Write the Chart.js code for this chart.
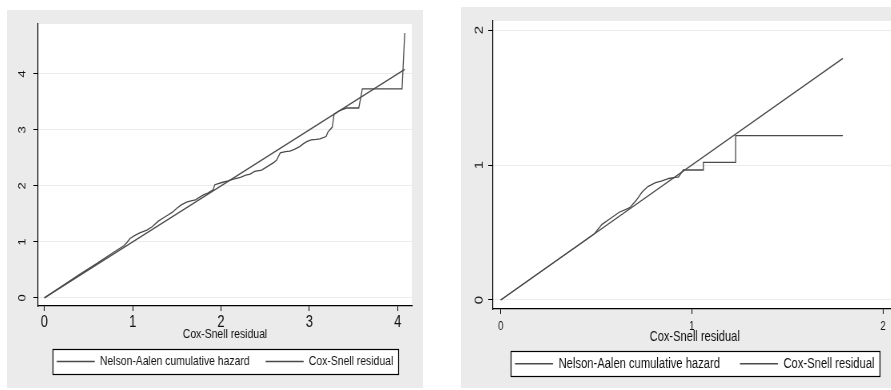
<!DOCTYPE html>
<html><head><meta charset="utf-8">
<script src="https://cdn.jsdelivr.net/npm/chart.js@4.4.1/dist/chart.umd.min.js"></script>
<style>
html,body{margin:0;padding:0;background:#fff;overflow:hidden;width:891px;height:390px;}
#p1{position:absolute;left:7px;top:10px;width:416px;height:378px;}
#p2{position:absolute;left:461px;top:7px;width:449px;height:381px;}
canvas{display:block}
</style></head><body>
<!-- canvases are drawn wider than shown, so the text appears condensed as in the reference -->
<div id="p1"><canvas id="c1" width="520" height="378" style="width:416px;height:378px"></canvas></div>
<div id="p2"><canvas id="c2" width="561" height="381" style="width:449px;height:381px"></canvas></div>
<script>
// ---- data ----
const legendLabels = ['Nelson-Aalen cumulative hazard', 'Cox-Snell residual'];
const axisTitle = 'Cox-Snell residual';

// left panel
const leftResidual = [0,0.2,0.4,0.6,0.78,0.9,0.93,0.97,1.02,1.08,1.16,1.22,1.29,1.35,1.40,1.45,1.50,1.55,1.61,1.66,1.71,1.75,1.80,1.85,1.91,1.93,2.01,2.08,2.14,2.22,2.28,2.33,2.38,2.46,2.50,2.55,2.60,2.63,2.67,2.73,2.78,2.83,2.89,2.93,2.97,3.02,3.08,3.12,3.19,3.21,3.26,3.28,3.35,3.42,3.56,3.60,4.05,4.08];
const leftHazard   = [0,0.21,0.42,0.62,0.81,0.93,0.98,1.06,1.11,1.16,1.21,1.27,1.37,1.43,1.48,1.53,1.60,1.66,1.71,1.73,1.75,1.79,1.84,1.87,1.93,2.02,2.06,2.09,2.12,2.15,2.19,2.21,2.26,2.28,2.32,2.37,2.42,2.46,2.59,2.61,2.62,2.65,2.70,2.75,2.79,2.82,2.83,2.84,2.88,2.96,3.05,3.28,3.35,3.39,3.39,3.73,3.73,4.73];
const leftDiagonal = [0, 4.08];
const leftXTicks = [0, 1, 2, 3, 4];
const leftYTicks = [0, 1, 2, 3, 4];

// right panel
const rightResidual = [0,0.1,0.2,0.3,0.4,0.49,0.53,0.57,0.62,0.67,0.68,0.71,0.74,0.77,0.81,0.84,0.88,0.92,0.93,0.955,1.06,1.06,1.229,1.229,1.79];
const rightHazard   = [0,0.1,0.2,0.3,0.4,0.49,0.56,0.60,0.65,0.68,0.69,0.74,0.80,0.84,0.87,0.88,0.90,0.91,0.91,0.963,0.963,1.02,1.02,1.217,1.217];
const rightDiagonal = [0, 1.79];
const rightXTicks = [0, 1, 2];
const rightYTicks = [0, 1, 2];

// ---- style ----
const FONT = '"Liberation Sans", Arial, sans-serif';
const LINE = '#4a4a4a';
const TEXT = '#111111';

const bgPlugin = {
  id: 'bg',
  beforeDraw(chart) {
    const {ctx, chartArea: a} = chart;
    ctx.save();
    ctx.fillStyle = '#ebebeb';
    ctx.fillRect(0, 0, chart.width, chart.height);
    ctx.fillStyle = '#ffffff';
    ctx.fillRect(a.left, a.top, a.right - a.left, a.bottom - a.top);
    const hb = chart.legend && chart.legend.legendHitBoxes;
    if (hb && hb.length) {
      const f = hb[0], l = hb[hb.length - 1];
      const x0 = Math.round(f.left - 5) + 0.5;
      const x1 = Math.round(l.left + l.width + 6) + 0.5;
      const cy = f.top + f.height / 2;
      const y0 = Math.round(cy - 12.5) + 0.5;
      ctx.fillRect(x0, y0, x1 - x0, 25);
      ctx.strokeStyle = '#000';
      ctx.lineWidth = 1.2;
      ctx.strokeRect(x0, y0, x1 - x0, 25);
    }
    ctx.restore();
  }
};

const yLabelPlugin = {
  id: 'ylab',
  afterDraw(chart, args, opts) {
    const s = chart.scales.y, ctx = chart.ctx;
    ctx.save();
    ctx.fillStyle = TEXT;
    ctx.font = opts.size + 'px ' + FONT;
    ctx.textAlign = 'center';
    ctx.textBaseline = 'middle';
    s.ticks.forEach(t => {
      const y = s.getPixelForValue(t.value);
      ctx.save();
      ctx.translate(chart.chartArea.left - opts.offset, y);
      ctx.rotate(-Math.PI / 2);
      ctx.fillText(String(t.label), 0, 0);
      ctx.restore();
    });
    ctx.restore();
  }
};

function makeChart(id, c) {
  return new Chart(document.getElementById(id), {
    type: 'scatter',
    data: {
      datasets: [
        {label: legendLabels[0], data: c.res.map((x, i) => ({x: x, y: c.haz[i]})),
         showLine: true, borderColor: LINE, backgroundColor: LINE, borderWidth: 1.3, pointRadius: 0, tension: 0},
        {label: legendLabels[1], data: c.diag.map(x => ({x: x, y: x})),
         showLine: true, borderColor: LINE, backgroundColor: LINE, borderWidth: 1.3, pointRadius: 0, tension: 0}
      ]
    },
    options: {
      responsive: false, animation: false, devicePixelRatio: 1,
      layout: {padding: {left: 0, top: 14, right: c.padRight, bottom: c.padBottom}},
      plugins: {
        tooltip: {enabled: false},
        ylab: {size: c.yTickSize, offset: c.yLabOffset},
        legend: {
          position: 'bottom', fullSize: false,
          labels: {usePointStyle: true, pointStyle: 'line', pointStyleWidth: 47.5, padding: c.legendPad,
                   color: TEXT, font: {family: FONT, size: c.legendSize}}
        }
      },
      scales: {
        x: {
          type: 'linear', min: c.xMin, max: c.xMax,
          afterBuildTicks: s => { s.ticks = c.xTicks.map(v => ({value: v})); },
          afterFit: s => { s.height = c.xH; },
          grid: {drawOnChartArea: false, tickLength: 5, tickColor: '#000', color: '#000'},
          border: {color: '#000', width: 1.2},
          ticks: {color: TEXT, padding: c.xTickPad, font: {family: FONT, size: c.xTickSize}, maxRotation: 0},
          title: {display: true, text: axisTitle, color: TEXT, font: {family: FONT, size: c.titleSize},
                  padding: {top: 0, bottom: c.titlePadB}}
        },
        y: {
          type: 'linear', min: c.yMin, max: c.yMax,
          afterBuildTicks: s => { s.ticks = c.yTicks.map(v => ({value: v})); },
          afterFit: s => { s.width = c.yW; },
          grid: {color: '#ececec', lineWidth: 1, tickLength: 6, tickColor: '#000'},
          border: {color: '#000', width: 1.2},
          ticks: {color: 'rgba(0,0,0,0)', font: {family: FONT, size: c.yTickSize}}
        }
      }
    },
    plugins: [bgPlugin, yLabelPlugin]
  });
}

makeChart('c1', {
  res: leftResidual, haz: leftHazard, diag: leftDiagonal, xTicks: leftXTicks, yTicks: leftYTicks,
  xMin: -0.07, xMax: 4.16, yMin: -0.145, yMax: 4.89,
  padRight: 14, padBottom: 10, yW: 39, xH: 29, legendPad: 20, legendSize: 13,
  xTickSize: 16, xTickPad: 2, titleSize: 13, titlePadB: -6.8, yTickSize: 13, yLabOffset: 19.4
});
makeChart('c2', {
  res: rightResidual, haz: rightHazard, diag: rightDiagonal, xTicks: rightXTicks, yTicks: rightYTicks,
  xMin: -0.04, xMax: 2.07, yMin: -0.067, yMax: 2.067,
  padRight: 17, padBottom: 7.25, yW: 40, xH: 22.75, legendPad: 25, legendSize: 14,
  xTickSize: 12, xTickPad: 5, titleSize: 13.9, titlePadB: -13.3, yTickSize: 15, yLabOffset: 17.5
});
</script>
</body></html>
